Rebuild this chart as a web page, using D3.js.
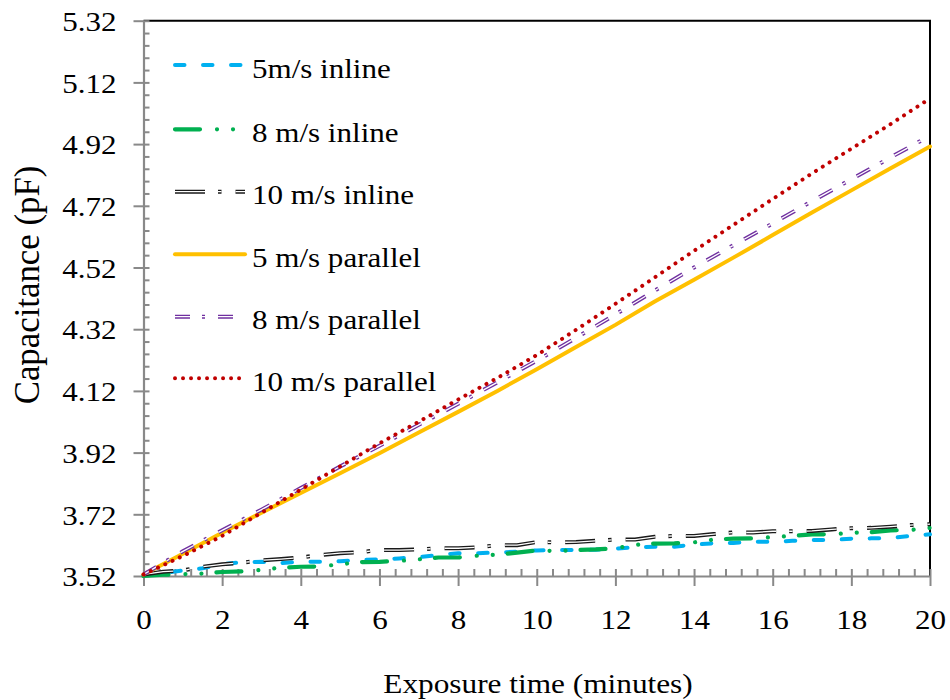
<!DOCTYPE html>
<html>
<head>
<meta charset="utf-8">
<script src="https://cdn.jsdelivr.net/npm/d3@7"></script>
<style>
  body { margin: 0; background: #fff; }
  svg { display: block; }
  text { font-family: "Liberation Serif", "Times New Roman", serif; fill: #000; }
</style>
</head>
<body>
<svg id="chart" width="950" height="700"></svg>
<script>
// Exposure time (minutes) sampling for each group of runs
const timesInline = [0,0.5,1,1.5,2,2.5,3,3.5,4,4.5,5,5.5,6,6.5,7,7.5,8,8.5,9,9.5,10,
  10.5,11,11.5,12,12.5,13,13.5,14,14.5,15,15.5,16,16.5,17,17.5,18,18.5,19,19.5,20];
const timesParallel = [0,1,2,3,4,5,6,7,8,9,10,11,12,13,14,15,16,17,18,19,20];

// Capacitance (pF), inline arrangement
const inline5 = [3.522,3.530,3.538,3.545,3.558,3.565,3.566,3.562,3.566,3.566,3.568,3.572,3.574,3.577,
  3.581,3.588,3.594,3.594,3.596,3.599,3.603,3.604,3.604,3.605,3.609,3.613,3.615,3.615,3.622,3.626,
  3.627,3.631,3.631,3.634,3.637,3.637,3.641,3.642,3.643,3.650,3.655];
const inline8 = [3.520,3.524,3.526,3.528,3.533,3.535,3.540,3.547,3.550,3.551,3.558,3.565,3.566,3.569,
  3.574,3.580,3.580,3.586,3.589,3.596,3.603,3.601,3.604,3.606,3.610,3.621,3.625,3.626,3.629,3.638,
  3.641,3.642,3.646,3.650,3.655,3.655,3.660,3.662,3.668,3.669,3.676];
const inline10 = [3.525,3.534,3.538,3.550,3.558,3.563,3.571,3.575,3.580,3.588,3.594,3.597,3.604,3.604,
  3.606,3.610,3.610,3.613,3.620,3.620,3.630,3.629,3.630,3.634,3.638,3.638,3.647,3.650,3.650,3.656,
  3.661,3.661,3.665,3.665,3.666,3.671,3.675,3.676,3.680,3.685,3.688];

// Capacitance (pF), parallel arrangement
const parallel5 = [3.525,3.592,3.660,3.725,3.789,3.853,3.918,3.985,4.052,4.120,4.190,
  4.262,4.334,4.410,4.480,4.552,4.625,4.698,4.770,4.842,4.912];
const parallel8 = [3.525,3.600,3.668,3.735,3.805,3.875,3.942,4.010,4.078,4.148,4.218,
  4.292,4.368,4.445,4.520,4.592,4.663,4.735,4.806,4.877,4.947];
const parallel10 = [3.525,3.585,3.650,3.725,3.800,3.875,3.950,4.020,4.092,4.162,4.236,
  4.318,4.402,4.488,4.574,4.658,4.742,4.825,4.905,4.985,5.068];

const seriesNames = ["5m/s inline", "8 m/s inline", "10 m/s inline",
  "5 m/s parallel", "8 m/s parallel", "10 m/s parallel"];

const xTicks = [0,2,4,6,8,10,12,14,16,18,20];
const yTicks = [3.52,3.72,3.92,4.12,4.32,4.52,4.72,4.92,5.12,5.32];

// Line styles per series
const styles = [
  { color: "#00B0F0", width: 4,   dash: "9.5,18.5", cap: "round" },
  { color: "#00B050", width: 4.2, dash: "25,17,0.01,16,0.01,15", cap: "round" },
  { color: "#1a1a1a", width: 4,   dash: "30,13,3.5,14", cap: "butt", inner: 1.3 },
  { color: "#FFC000", width: 4,   dash: null, cap: "round" },
  { color: "#7030A0", width: 4,   dash: "15,12,3,13", cap: "butt", inner: 1.3 },
  { color: "#C00000", width: 4,   dash: "0.01,8", cap: "round" }
];

const series = [
  { t: timesInline, v: inline5 },
  { t: timesInline, v: inline8 },
  { t: timesInline, v: inline10 },
  { t: timesParallel, v: parallel5 },
  { t: timesParallel, v: parallel8 },
  { t: timesParallel, v: parallel10 }
].map((s, i) => ({ name: seriesNames[i], style: styles[i],
  points: s.t.map((t, j) => ({ t, v: s.v[j] })) }));

const svg = d3.select("#chart");
const x0 = 143.5, x1 = 930, yB = 576, yT = 20.7;
const x = d3.scaleLinear().domain([0, 20]).range([x0, x1]);
const y = d3.scaleLinear().domain([3.52, 5.32]).range([yB, yT]);
const axisColor = "#898989";
const sx = 1.15; // horizontal glyph stretch

// Plot frame (top and right edges)
svg.append("path")
  .attr("d", `M${x0},${yT}H${x1}V${yB}`)
  .attr("fill", "none").attr("stroke", "#000").attr("stroke-width", 2);

// Minor ticks, pointing into the plot
const yMinor = d3.range(46).map(i => 3.52 + i * 0.04);
const xMinor = d3.range(51).map(i => i * 0.4);
svg.append("g").attr("transform", `translate(${x0},0)`)
  .call(d3.axisRight(y).tickValues(yMinor).tickSize(6).tickFormat(""))
  .call(g => g.select(".domain").remove());
svg.append("g").attr("transform", `translate(0,${yB})`)
  .call(d3.axisTop(x).tickValues(xMinor).tickSize(7).tickFormat(""))
  .call(g => g.select(".domain").remove());

// Major axes with outward ticks
const yAxis = svg.append("g").attr("transform", `translate(${x0},0)`)
  .call(d3.axisLeft(y).tickValues(yTicks).tickSize(10).tickSizeOuter(0)
    .tickPadding(17).tickFormat(d3.format(".2f")));
const xAxis = svg.append("g").attr("transform", `translate(0,${yB})`)
  .call(d3.axisBottom(x).tickValues(xTicks).tickSize(10).tickSizeOuter(0)
    .tickPadding(20).tickFormat(d3.format("d")));

svg.selectAll(".tick line").attr("stroke", axisColor).attr("stroke-width", 2);
svg.selectAll(".domain").attr("stroke", axisColor).attr("stroke-width", 2.2);

yAxis.selectAll("text")
  .attr("font-size", 27).attr("font-family", "Liberation Serif")
  .attr("dy", "0.36em")
  .attr("x", -27 / sx)
  .attr("transform", `scale(${sx},1)`);
xAxis.selectAll("text")
  .attr("font-size", 27).attr("font-family", "Liberation Serif")
  .attr("y", 53).attr("dy", 0)
  .attr("transform", `scale(${sx},1)`);

// Data lines
const line = d3.line().x(d => x(d.t)).y(d => y(d.v));
function stroke(sel, st) {
  sel.attr("fill", "none").attr("stroke", st.color).attr("stroke-width", st.width)
    .attr("stroke-linecap", st.cap).attr("stroke-linejoin", "round")
    .attr("stroke-dasharray", st.dash);
}
function inner(sel, st) {
  sel.attr("fill", "none").attr("stroke", "#fff").attr("stroke-width", st.inner)
    .attr("stroke-linecap", st.cap).attr("stroke-linejoin", "round")
    .attr("stroke-dasharray", st.dash);
}
const plot = svg.append("g");
series.forEach(s => {
  plot.append("path").datum(s.points).attr("d", line).call(stroke, s.style);
  if (s.style.inner) plot.append("path").datum(s.points).attr("d", line).call(inner, s.style);
});

// Legend
const legendLineY = [65, 129.3, 191.7, 254.3, 316.7, 378.3];
const legend = svg.append("g");
series.forEach((s, i) => {
  const ly = legendLineY[i];
  const seg = `M175,${ly}H245`;
  legend.append("path").attr("d", seg).call(stroke, s.style);
  if (s.style.inner) legend.append("path").attr("d", seg).call(inner, s.style);
  legend.append("text")
    .attr("transform", `translate(252,${ly + 12.5}) scale(${sx},1)`)
    .attr("font-size", 27)
    .text(s.name);
});

// Axis titles
svg.append("text")
  .attr("transform", `translate(538,693) scale(1.16,1)`)
  .attr("text-anchor", "middle").attr("font-size", 27)
  .text("Exposure time (minutes)");
svg.append("text")
  .attr("transform", `translate(39,285) rotate(-90)`)
  .attr("text-anchor", "middle").attr("font-size", 34.8)
  .text("Capacitance (pF)");
</script>
</body>
</html>
